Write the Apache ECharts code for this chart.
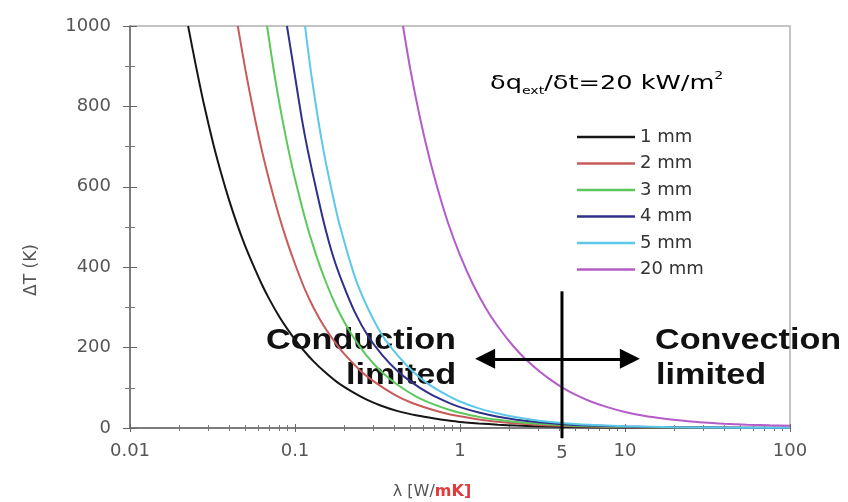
<!DOCTYPE html>
<html><head><meta charset="utf-8">
<script src="https://cdn.jsdelivr.net/npm/echarts@6/dist/echarts.min.js"></script>
<style>html,body{margin:0;padding:0;background:#fff}#c{width:848px;height:502px}</style>
</head><body><div id="c"></div>
<script>
// ---- data ----
const seriesNames  = ['1 mm', '2 mm', '3 mm', '4 mm', '5 mm', '20 mm'];
const seriesColors = ['#151515', '#c85a5a', '#5cc85c', '#30308a', '#5cc8ea', '#b45cc8'];

// [lambda (W/mK), deltaT (K)]
const curve1mm = [[0.0225,1000],[0.025,904],[0.028,807],[0.032,706],[0.036,628],[0.04,565],[0.045,502],[0.05,452],[0.056,404],[0.063,357],[0.07,320],[0.08,278],[0.09,246],[0.1,220],[0.115,189],[0.13,165],[0.15,141],[0.18,114],[0.22,91],[0.27,71],[0.33,56],[0.42,42],[0.55,31],[0.7,23.5],[0.85,18.5],[1,15],[1.3,11.2],[1.7,8.3],[2.2,6.1],[3,4.3],[4,3.1],[6,2],[10,1.1],[20,0.6],[50,0.25],[100,0.12]];
const curve2mm = [[0.045,1000],[0.05,892],[0.056,788],[0.063,690],[0.07,614],[0.08,528],[0.09,461],[0.1,408],[0.115,344],[0.13,298],[0.15,253],[0.18,206],[0.2,183],[0.25,142],[0.3,116],[0.4,83],[0.5,64],[0.65,48],[0.8,37.5],[1,29],[1.3,21],[1.7,15.3],[2.2,11],[3,7.7],[4,5.5],[6,3.5],[10,2],[20,1],[50,0.4],[100,0.2]];
const curve3mm = [[0.0677,1000],[0.075,880],[0.083,777],[0.092,685],[0.1,620],[0.115,522],[0.13,448],[0.15,375],[0.18,298],[0.22,233],[0.27,181],[0.33,142],[0.42,107],[0.55,77],[0.7,58],[0.85,46],[1,38],[1.3,27.7],[1.7,20.3],[2.2,14.9],[3,10.3],[4,7.4],[6,4.6],[10,2.5],[20,1.2],[50,0.5],[100,0.25]];
const curve4mm = [[0.0894,1000],[0.1,875],[0.11,769],[0.12,687],[0.135,590],[0.15,509],[0.17,428],[0.195,359],[0.23,289],[0.277,229],[0.34,180],[0.415,143],[0.5,116],[0.65,86],[0.85,63],[1,52],[1.3,38.5],[1.7,28.2],[2.2,20.7],[3,14.3],[4,10.2],[6,6.3],[10,3.5],[20,1.7],[50,0.7],[100,0.35]];
const curve5mm = [[0.115,1000],[0.125,884],[0.138,768],[0.15,683],[0.165,600],[0.182,522],[0.2,460],[0.22,402],[0.24,356],[0.28,293],[0.34,229],[0.42,180],[0.52,140],[0.65,108],[0.85,80],[1,66],[1.3,48.8],[1.7,35.9],[2.2,26.6],[3,18.3],[4,13],[6,7.8],[10,4.2],[20,2],[50,0.8],[100,0.4]];
const curve20mm = [[0.4513,1000],[0.5,892],[0.57,775],[0.65,674],[0.75,580],[0.85,508],[1,430],[1.2,357],[1.45,295],[1.75,245],[2.1,204],[2.5,171],[3.05,140],[3.6,118],[4.2,100],[5,83],[6.2,66],[7.8,52],[10,40],[13,30.5],[17,23.5],[22,18.5],[30,13.5],[40,10.5],[55,8.2],[75,6.8],[100,5.8]];
const curves = [curve1mm, curve2mm, curve3mm, curve4mm, curve5mm, curve20mm];

const xMin = 0.01, xMax = 100;
const yMin = 0, yMax = 1000, yStep = 200;

// annotations
const dividerLambda = 4.15, dividerTop = 340, dividerBottom = -25, dividerLabel = '5';
const arrowLeft = 1.42, arrowRight = 10.7, arrowY = 172;
const legendTitle = ['δq', 'ext', '/δt=20 kW/m', '2'];
const leftNote = ['Conduction', 'limited'];
const rightNote = ['Convection', 'limited'];

const FONT = 'DejaVu Sans';
const chart = echarts.init(document.getElementById('c'), null, {renderer: 'canvas'});

const series = curves.map((d, i) => ({
  name: seriesNames[i], type: 'line', data: d, smooth: 0.25, symbol: 'none',
  lineStyle: {color: seriesColors[i], width: 2}, itemStyle: {color: seriesColors[i]},
  z: 3
}));

series.push({
  name: 'divider', type: 'line', clip: false, symbol: 'none', showSymbol: true, silent: true,
  data: [[dividerLambda, dividerTop], {value: [dividerLambda, dividerBottom], symbol: 'circle', symbolSize: 1,
    label: {show: true, position: 'bottom', distance: 6, formatter: dividerLabel, fontFamily: FONT, fontSize: 18, color: '#555'}}],
  lineStyle: {color: '#000', width: 3}, itemStyle: {color: '#000'}, z: 5,
  markLine: {
    silent: true, symbol: ['triangle', 'triangle'], symbolSize: 20,
    lineStyle: {color: '#000', width: 3, type: 'solid'}, label: {show: false},
    data: [[{coord: [arrowLeft, arrowY]}, {coord: [arrowRight, arrowY]}]]
  }
});

const axisCommonX = {type: 'log', logBase: 10, min: xMin, max: xMax, splitLine: {show: false}};
const axisCommonY = {type: 'value', min: yMin, max: yMax, interval: yStep, splitLine: {show: false}};

chart.setOption({
  animation: false,
  backgroundColor: '#fff',
  grid: {left: 130, right: 58, top: 26, bottom: 74, outerBoundsMode: 'none', containLabel: false,
    show: true, borderColor: '#c4c4c4', borderWidth: 2},
  legend: {
    data: seriesNames, orient: 'vertical', left: 572, top: 122, icon: 'rect',
    itemWidth: 58, itemHeight: 2.5, itemGap: 6.5,
    textStyle: {fontFamily: FONT, fontSize: 18, color: '#333', lineHeight: 20}
  },
  xAxis: [Object.assign({}, axisCommonX, {
    name: 'λ [W/{r|mK]}', nameLocation: 'middle', nameGap: 56,
    nameTextStyle: {fontFamily: FONT, fontSize: 16, color: '#555', padding: [0, 56, 0, 0],
      rich: {r: {fontFamily: FONT, fontSize: 16, color: '#e23a3a', fontWeight: 'bold'}}},
    axisLine: {lineStyle: {color: '#666', width: 1.5}},
    axisTick: {show: true, length: 4, lineStyle: {color: '#666'}},
    minorTick: {show: true, splitNumber: 9, length: 3, lineStyle: {color: '#777'}},
    axisLabel: {fontFamily: FONT, fontSize: 18, color: '#555', margin: 14}
  }), Object.assign({}, axisCommonX, {
    position: 'bottom', axisLine: {show: false}, axisLabel: {show: false},
    axisTick: {show: true, inside: true, length: 4, lineStyle: {color: '#666'}},
    minorTick: {show: true, splitNumber: 9, length: 3, lineStyle: {color: '#777'}}
  })],
  yAxis: [Object.assign({}, axisCommonY, {
    name: 'ΔT (K)', nameLocation: 'middle', nameGap: 90,
    nameTextStyle: {fontFamily: FONT, fontSize: 17, color: '#555', padding: [0, 86, 0, 0]},
    axisLine: {show: true, lineStyle: {color: '#666', width: 1.5}},
    axisTick: {show: true, length: 7, lineStyle: {color: '#666'}},
    minorTick: {show: true, splitNumber: 2, length: 5, lineStyle: {color: '#777'}},
    axisLabel: {fontFamily: FONT, fontSize: 18, color: '#555', margin: 19, formatter: v => String(v)}
  }), Object.assign({}, axisCommonY, {
    position: 'left', axisLine: {show: false}, axisLabel: {show: false},
    axisTick: {show: true, inside: true, length: 7, lineStyle: {color: '#666'}},
    minorTick: {show: true, splitNumber: 2, length: 5, lineStyle: {color: '#777'}}
  })],
  graphic: [
    {type: 'text', left: 490, top: 70, scaleX: 1.28, style: {
      text: '{n|' + legendTitle[0] + '}{sub|' + legendTitle[1] + '}{n|' + legendTitle[2] + '}{sup|' + legendTitle[3] + '}',
      rich: {
        n: {fontFamily: FONT, fontSize: 20, color: '#333', lineHeight: 28, verticalAlign: 'middle'},
        sub: {fontFamily: FONT, fontSize: 11, color: '#333', lineHeight: 28, verticalAlign: 'bottom', padding: [0,0,1,0]},
        sup: {fontFamily: FONT, fontSize: 11, color: '#333', lineHeight: 28, verticalAlign: 'top', padding: [1,0,0,0]}
      }}},
    {type: 'text', left: 266, top: 326, scaleX: 1.14, style: {text: leftNote[0], fontFamily: 'Liberation Sans', fontWeight: 'bold', fontSize: 30, fill: '#111'}},
    {type: 'text', left: 346, top: 361, scaleX: 1.14, style: {text: leftNote[1], fontFamily: 'Liberation Sans', fontWeight: 'bold', fontSize: 30, fill: '#111'}},
    {type: 'text', left: 655, top: 326, scaleX: 1.14, style: {text: rightNote[0], fontFamily: 'Liberation Sans', fontWeight: 'bold', fontSize: 30, fill: '#111'}},
    {type: 'text', left: 656, top: 361, scaleX: 1.14, style: {text: rightNote[1], fontFamily: 'Liberation Sans', fontWeight: 'bold', fontSize: 30, fill: '#111'}}
  ],
  series: series
});
</script></body></html>
